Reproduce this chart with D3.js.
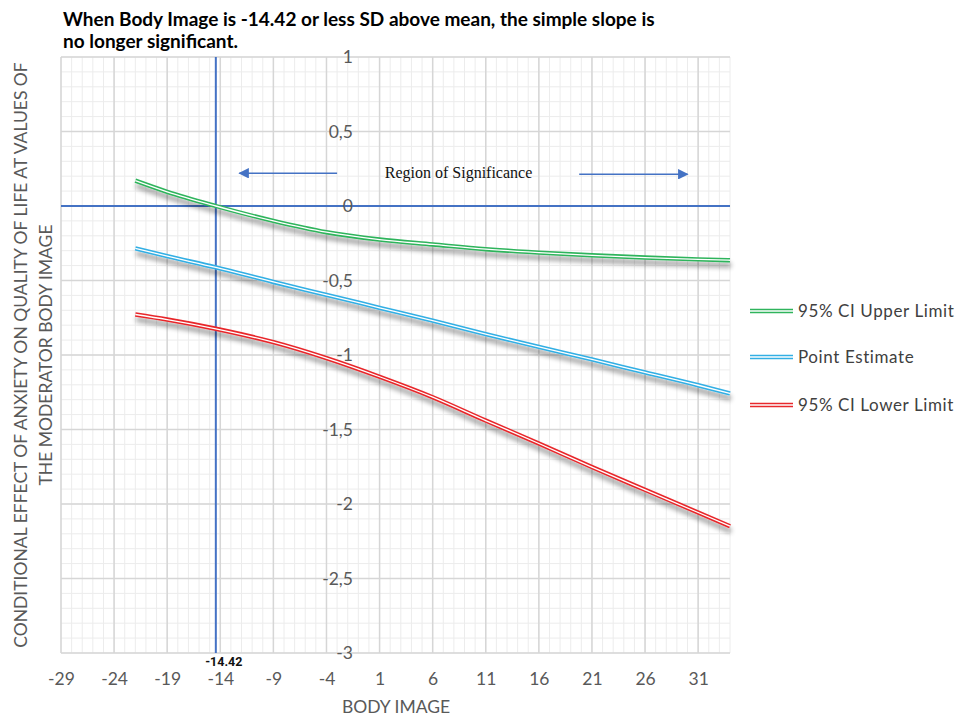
<!DOCTYPE html>
<html>
<head>
<meta charset="utf-8">
<script src="https://cdn.jsdelivr.net/npm/d3@7"></script>
<style>
  body { margin: 0; background: #fff; }
  .tick_lab { font-family: Lato, "Open Sans", sans-serif; font-size: 17.5px; fill: #595959; }
  .ax_title { font-family: Lato, "Open Sans", sans-serif; font-size: 17.5px; fill: #595959; }
  .title { font-family: Lato, "Open Sans", sans-serif; font-size: 19px; font-weight: bold; fill: #000; }
  .leg { font-family: Lato, "Open Sans", sans-serif; font-size: 17px; letter-spacing: 0.6px; fill: #404040; }
</style>
</head>
<body>
<script>
// svg size
var w = 969;
var h = 718;

// plot area
var pL = 61, pR = 730, pT = 57, pB = 653;

// data
var bodyImage = [-22, -19, -14.42, -9, -4, 1, 6, 11, 16, 21, 26, 31, 34];
var upperCI  = [0.17, 0.095, 0.0, -0.10, -0.176, -0.225, -0.258, -0.290, -0.313, -0.331, -0.346, -0.358, -0.364];
var pointEst = [-0.285, -0.337, -0.412, -0.51, -0.596, -0.683, -0.77, -0.86, -0.946, -1.03, -1.117, -1.203, -1.258];
var lowerCI  = [-0.728, -0.762, -0.824, -0.914, -1.021, -1.146, -1.283, -1.44, -1.594, -1.752, -1.905, -2.057, -2.149];

var seriesNames = ["95% CI Upper Limit", "Point Estimate", "95% CI Lower Limit"];
var seriesCols = ["#2fb45c", "#33afe4", "#e8282c"];
var seriesVals = [upperCI, pointEst, lowerCI];

// axis ticks
var xTicks = [-29, -24, -19, -14, -9, -4, 1, 6, 11, 16, 21, 26, 31];
var yTicks = [1, 0.5, 0, -0.5, -1, -1.5, -2, -2.5, -3];
var xDomain = [-29, 34];
var yDomain = [-3, 1];

// boundary of significance
var jnPoint = -14.42;

// arrows around the "Region of Significance" label
var arrowY = 0.22;
var arrowLeft = [-3, -12.2];
var arrowRight = [19.8, 30];

var scaleX = d3.scaleLinear().domain(xDomain).range([pL, pR]);
var scaleY = d3.scaleLinear().domain(yDomain).range([pB, pT]);

var svg = d3.select("body").append("svg")
            .attr("width", w)
            .attr("height", h);

var defs = svg.append("defs");
var filt = defs.append("filter")
               .attr("id", "shadow")
               .attr("x", "-10%").attr("y", "-50%")
               .attr("width", "120%").attr("height", "200%");
filt.append("feGaussianBlur").attr("in", "SourceAlpha").attr("stdDeviation", 2.4).attr("result", "blur");
filt.append("feOffset").attr("in", "blur").attr("dx", 1).attr("dy", 4.5).attr("result", "off");
filt.append("feComponentTransfer").attr("in", "off").attr("result", "fade")
    .append("feFuncA").attr("type", "linear").attr("slope", 0.4);
var merge = filt.append("feMerge");
merge.append("feMergeNode").attr("in", "fade");
merge.append("feMergeNode").attr("in", "SourceGraphic");

var marker = defs.append("marker")
                 .attr("id", "arrow")
                 .attr("viewBox", "0 0 10 10")
                 .attr("refX", 9).attr("refY", 5)
                 .attr("markerWidth", 8).attr("markerHeight", 7)
                 .attr("markerUnits", "strokeWidth")
                 .attr("orient", "auto");
marker.append("path").attr("d", "M0,0 L10,5 L0,10 Z").attr("fill", "#4472c4");

// minor grid
var minorX = d3.range(xDomain[0], xDomain[1] + 0.5, 1);
var minorY = d3.range(-30, 11, 1).map(function(d) { return d / 10; });
svg.append("g").selectAll("line").data(minorX).enter().append("line")
   .attr("x1", function(d) { return scaleX(d); })
   .attr("x2", function(d) { return scaleX(d); })
   .attr("y1", pT).attr("y2", pB)
   .attr("stroke", "#ececec").attr("stroke-width", 1);
svg.append("g").selectAll("line").data(minorY).enter().append("line")
   .attr("y1", function(d) { return scaleY(d); })
   .attr("y2", function(d) { return scaleY(d); })
   .attr("x1", pL).attr("x2", pR)
   .attr("stroke", "#ececec").attr("stroke-width", 1);

// major grid
svg.append("g").selectAll("line").data(xTicks).enter().append("line")
   .attr("x1", function(d) { return scaleX(d); })
   .attr("x2", function(d) { return scaleX(d); })
   .attr("y1", pT).attr("y2", pB)
   .attr("stroke", "#d6d6d6").attr("stroke-width", 1.5);
svg.append("g").selectAll("line").data(yTicks).enter().append("line")
   .attr("y1", function(d) { return scaleY(d); })
   .attr("y2", function(d) { return scaleY(d); })
   .attr("x1", pL).attr("x2", pR)
   .attr("stroke", "#d6d6d6").attr("stroke-width", 1.5);

// reference lines
svg.append("line")
   .attr("x1", pL).attr("x2", pR)
   .attr("y1", scaleY(0)).attr("y2", scaleY(0))
   .attr("stroke", "#4472c4").attr("stroke-width", 2);
svg.append("line")
   .attr("x1", scaleX(jnPoint)).attr("x2", scaleX(jnPoint))
   .attr("y1", pT).attr("y2", pB)
   .attr("stroke", "#4472c4").attr("stroke-width", 2);

// x axis labels
var axisX = d3.axisBottom(scaleX).tickValues(xTicks).tickSize(0).tickPadding(20)
              .tickFormat(function(d) { return d < 0 ? "-" + Math.abs(d) : d; });
var gx = svg.append("g").attr("transform", "translate(0," + pB + ")").call(axisX);
gx.select(".domain").remove();
gx.selectAll("text").attr("class", "tick_lab").attr("font-size", null).attr("font-family", null).attr("fill", null);

// y axis labels, sitting at x = 0
var fmtY = function(d) { return String(d).replace(".", ","); };
var axisY = d3.axisLeft(scaleY).tickValues(yTicks).tickSize(0).tickPadding(16).tickFormat(fmtY);
var gy = svg.append("g").attr("transform", "translate(" + scaleX(0) + ",0)").call(axisY);
gy.select(".domain").remove();
gy.selectAll("text").attr("class", "tick_lab").attr("font-size", null).attr("font-family", null).attr("fill", null);

// series lines: shadowed double lines
var lineGen = d3.line()
                .x(function(d) { return scaleX(d[0]); })
                .y(function(d) { return scaleY(d[1]); })
                .curve(d3.curveMonotoneX);

for (var i = 0; i < seriesVals.length; i++) {
    var pts = bodyImage.map(function(x, j) { return [x, seriesVals[i][j]]; });
    var g = svg.append("g").attr("filter", "url(#shadow)");
    g.append("path")
     .attr("d", lineGen(pts))
     .attr("fill", "none")
     .attr("stroke", seriesCols[i])
     .attr("stroke-width", 4.4);
    g.append("path")
     .attr("d", lineGen(pts))
     .attr("fill", "none")
     .attr("stroke", "#fff")
     .attr("stroke-width", 1.3);
}

// label of the boundary
svg.append("text")
   .text(String(jnPoint))
   .attr("x", scaleX(jnPoint) + 8)
   .attr("y", pB + 13)
   .attr("text-anchor", "middle")
   .attr("font-family", "'Liberation Sans Narrow', Roboto, sans-serif")
   .attr("font-size", 12.5)
   .attr("font-weight", "bold")
   .attr("fill", "#111");

// region of significance annotation
svg.append("text")
   .text("Region of Significance")
   .attr("x", (pL + pR) / 2 + 63)
   .attr("y", scaleY(arrowY) + 5)
   .attr("text-anchor", "middle")
   .attr("font-family", "'Liberation Serif', serif")
   .attr("font-size", 16)
   .attr("fill", "#111");
svg.append("line")
   .attr("x1", scaleX(arrowLeft[0])).attr("x2", scaleX(arrowLeft[1]))
   .attr("y1", scaleY(arrowY)).attr("y2", scaleY(arrowY))
   .attr("stroke", "#4472c4").attr("stroke-width", 1.5)
   .attr("marker-end", "url(#arrow)");
svg.append("line")
   .attr("x1", scaleX(arrowRight[0])).attr("x2", scaleX(arrowRight[1]))
   .attr("y1", scaleY(arrowY) + 1).attr("y2", scaleY(arrowY) + 1)
   .attr("stroke", "#4472c4").attr("stroke-width", 1.5)
   .attr("marker-end", "url(#arrow)");

// title
svg.append("text").attr("class", "title").attr("x", 63).attr("y", 26)
   .text("When Body Image is -14.42 or less SD above mean, the simple slope is");
svg.append("text").attr("class", "title").attr("x", 63).attr("y", 48)
   .text("no longer significant.");

// axis titles
svg.append("text").attr("class", "ax_title")
   .attr("x", 396).attr("y", 713)
   .attr("text-anchor", "middle")
   .text("BODY IMAGE");
var yt = svg.append("text").attr("class", "ax_title")
            .attr("text-anchor", "middle")
            .attr("transform", "translate(0,355) rotate(-90)");
yt.append("tspan").attr("x", 0).attr("y", 27).text("CONDITIONAL EFFECT OF ANXIETY ON QUALITY OF LIFE AT VALUES OF");
yt.append("tspan").attr("x", 0).attr("y", 52).text("THE MODERATOR BODY IMAGE");

// legend
var legY = [311, 357, 405];
for (var k = 0; k < seriesNames.length; k++) {
    svg.append("line")
       .attr("x1", 750).attr("x2", 793)
       .attr("y1", legY[k]).attr("y2", legY[k])
       .attr("stroke", seriesCols[k]).attr("stroke-width", 4.4);
    svg.append("line")
       .attr("x1", 750).attr("x2", 793)
       .attr("y1", legY[k]).attr("y2", legY[k])
       .attr("stroke", "#fff").attr("stroke-width", 1.3);
    svg.append("text").attr("class", "leg")
       .attr("x", 798).attr("y", legY[k] + 6)
       .text(seriesNames[k]);
}
</script>
</body>
</html>
